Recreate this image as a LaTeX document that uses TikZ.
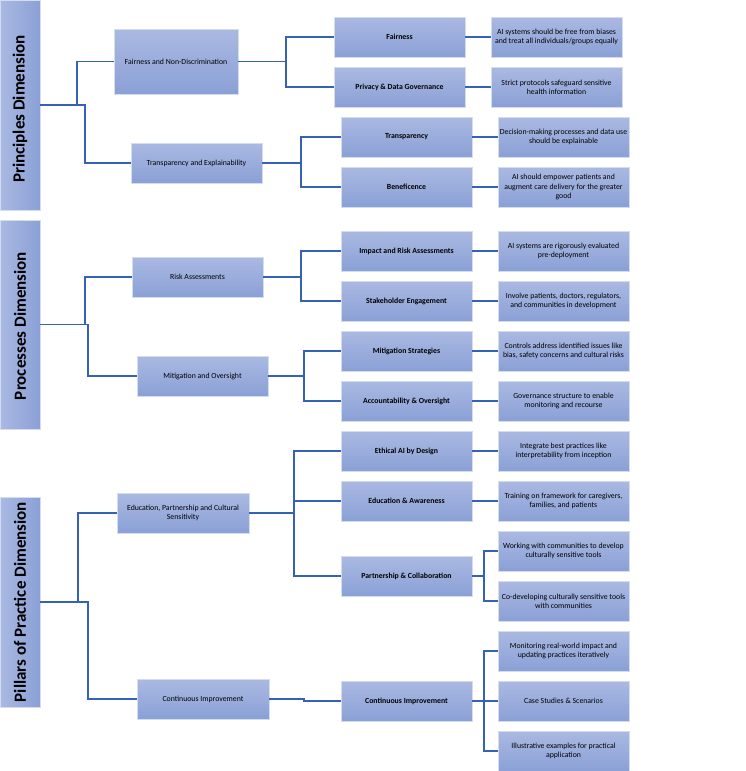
\documentclass[tikz,border=0pt]{standalone}
\usepackage{fontspec}
\setmainfont{Carlito}
\definecolor{boxtop}{HTML}{AAB9E2}
\definecolor{boxbot}{HTML}{8AA0D6}
\definecolor{boxedge}{HTML}{D4DCF0}
\definecolor{linkc}{HTML}{3562B4}
\begin{document}
\begin{tikzpicture}[x=1pt,y=-1pt,
  base/.style={rectangle, draw=boxedge, line width=0.8pt, top color=boxtop, bottom color=boxbot,
    inner sep=1pt, align=center, text=black, font=\fontsize{7.8}{9.2}\selectfont},
  bar/.style={base, left color=boxtop, right color=boxbot, minimum width=40pt},
  bartext/.style={rotate=90, text=black, font=\fontsize{17}{20}\selectfont\bfseries},
  lone/.style={base, minimum width=131pt, minimum height=40pt},
  ltwo/.style={base, minimum width=131pt, minimum height=40pt, font=\fontsize{7.8}{9.2}\selectfont\bfseries},
  lthree/.style={base, minimum width=131pt, minimum height=40pt},
  link/.style={draw=linkc, line width=1.3pt}]
\useasboundingbox (0,0) rectangle (746,771);

% dimension bars
\node[bar, minimum height=210pt] (barP) at (20,105) {};
\node[bartext] (barPt) at (20,109) {Principles Dimension};
\node[bar, minimum height=209pt] (barR) at (20,324.5) {};
\node[bartext] (barRt) at (20,326) {Processes Dimension};
\node[bar, minimum height=210pt] (barQ) at (20,602) {};
\node[bartext] (barQt) at (20,602) {Pillars of Practice Dimension};

% level one
\node[lone, minimum width=124pt, minimum height=65pt] (fnd) at (176,61.5) {Fairness and Non-Discrimination};
\node[lone] (te) at (196.5,163) {Transparency and Explainability};
\node[lone] (ra) at (197.5,277) {Risk Assessments};
\node[lone] (mo) at (202.5,376) {Mitigation and Oversight};
\node[lone, minimum width=132pt] (eps) at (183,513) {Education, Partnership and Cultural\\Sensitivity};
\node[lone, minimum width=132pt] (ci) at (203,699) {Continuous Improvement};

% level two
\node[ltwo] (fair) at (399.5,37) {Fairness};
\node[ltwo] (priv) at (399.5,87) {Privacy \& Data Governance};
\node[ltwo] (trans) at (406.5,137) {Transparency};
\node[ltwo] (bene) at (406.5,187) {Beneficence};
\node[ltwo] (impact) at (406.5,251) {Impact and Risk Assessments};
\node[ltwo] (stake) at (406.5,301) {Stakeholder Engagement};
\node[ltwo] (mitig) at (406.5,351) {Mitigation Strategies};
\node[ltwo] (acc) at (406.5,401) {Accountability \& Oversight};
\node[ltwo] (eth) at (406.5,451) {Ethical AI by Design};
\node[ltwo] (edu) at (406.5,501) {Education \& Awareness};
\node[ltwo] (part) at (406.5,576) {Partnership \& Collaboration};
\node[ltwo] (cont) at (406.5,701) {Continuous Improvement};

% level three
\node[lthree] (d1) at (556.5,37) {AI systems should be free from biases\\and treat all individuals/groups equally};
\node[lthree] (d2) at (556.5,87) {Strict protocols safeguard sensitive\\health information};
\node[lthree] (d3) at (563.5,137) {Decision-making processes and data use\\should be explainable};
\node[lthree] (d4) at (563.5,187) {AI should empower patients and\\augment care delivery for the greater\\good};
\node[lthree] (d5) at (563.5,251) {AI systems are rigorously evaluated\\pre-deployment};
\node[lthree] (d6) at (563.5,301) {Involve patients, doctors, regulators,\\and communities in development};
\node[lthree] (d7) at (563.5,351) {Controls address identified issues like\\bias, safety concerns and cultural risks};
\node[lthree] (d8) at (563.5,401) {Governance structure to enable\\monitoring and recourse};
\node[lthree] (d9) at (563.5,451) {Integrate best practices like\\interpretability from inception};
\node[lthree] (d10) at (563.5,501) {Training on framework for caregivers,\\families, and patients};
\node[lthree] (d11) at (563.5,551) {Working with communities to develop\\culturally sensitive tools};
\node[lthree] (d12) at (563.5,601) {Co-developing culturally sensitive tools\\with communities};
\node[lthree] (d13) at (563.5,651) {Monitoring real-world impact and\\updating practices iteratively};
\node[lthree] (d14) at (563.5,701) {Case Studies \& Scenarios};
\node[lthree] (d15) at (563.5,751) {Illustrative examples for practical\\application};

% junctions
\coordinate (jP) at (77,105);
\coordinate (jP2) at (85,105);
\coordinate (jR) at (85,324.5);
\coordinate (jR2) at (88,324.5);
\coordinate (jQ) at (78,602);
\coordinate (jQ2) at (88,602);
\coordinate (jf) at (286,61.5);
\coordinate (jt) at (301,163);
\coordinate (jr) at (301,277);
\coordinate (jm) at (304,376);
\coordinate (je) at (294,513);
\coordinate (jc) at (304,699);
\coordinate (jp) at (484,576);
\coordinate (jn) at (484,701);

% connectors
\draw[link] (barP.east) -- (jP2) |- (te.west);
\draw[link] (jP) |- (fnd.west);
\draw[link] (barR.east) -- (jR2) |- (mo.west);
\draw[link] (jR) |- (ra.west);
\draw[link] (barQ.east) -- (jQ2) |- (ci.west);
\draw[link] (jQ) |- (eps.west);

\draw[link] (fnd.east) -- (jf);
\draw[link] (jf) |- (fair.west);
\draw[link] (jf) |- (priv.west);
\draw[link] (te.east) -- (jt);
\draw[link] (jt) |- (trans.west);
\draw[link] (jt) |- (bene.west);
\draw[link] (ra.east) -- (jr);
\draw[link] (jr) |- (impact.west);
\draw[link] (jr) |- (stake.west);
\draw[link] (mo.east) -- (jm);
\draw[link] (jm) |- (mitig.west);
\draw[link] (jm) |- (acc.west);
\draw[link] (eps.east) -- (je);
\draw[link] (je) |- (eth.west);
\draw[link] (je) |- (edu.west);
\draw[link] (je) |- (part.west);
\draw[link] (ci.east) -- (jc) |- (cont.west);

\draw[link] (fair.east) -- (d1.west);
\draw[link] (priv.east) -- (d2.west);
\draw[link] (trans.east) -- (d3.west);
\draw[link] (bene.east) -- (d4.west);
\draw[link] (impact.east) -- (d5.west);
\draw[link] (stake.east) -- (d6.west);
\draw[link] (mitig.east) -- (d7.west);
\draw[link] (acc.east) -- (d8.west);
\draw[link] (eth.east) -- (d9.west);
\draw[link] (edu.east) -- (d10.west);
\draw[link] (part.east) -- (jp);
\draw[link] (jp) |- (d11.west);
\draw[link] (jp) |- (d12.west);
\draw[link] (cont.east) -- (jn);
\draw[link] (jn) |- (d13.west);
\draw[link] (jn) |- (d14.west);
\draw[link] (jn) |- (d15.west);
\end{tikzpicture}
\end{document}
